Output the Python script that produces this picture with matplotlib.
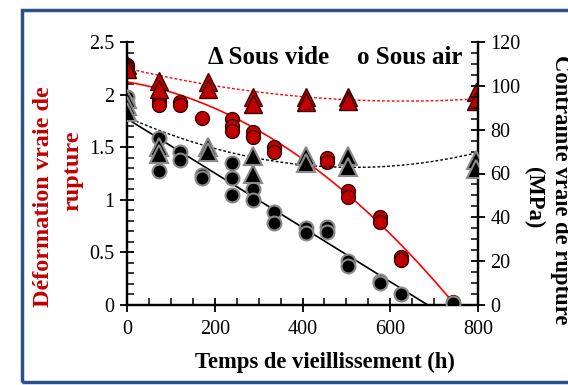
import numpy as np
import matplotlib
matplotlib.use("Agg")
import matplotlib.pyplot as plt
from matplotlib.patches import Rectangle
from matplotlib.ticker import MultipleLocator

plt.rcParams["font.family"] = ["Liberation Serif", "DejaVu Serif"]

# red: true strain at rupture (left axis), black: true stress at rupture in MPa (right axis)
air_strain_h = [0, 0, 72, 72, 72, 120, 120, 170, 240, 240, 240, 288, 288, 336, 336,
                456, 456, 504, 504, 576, 576, 624, 624, 744]
air_strain = [2.28, 2.26, 1.98, 1.93, 1.90, 1.93, 1.90, 1.78, 1.77, 1.70, 1.65, 1.64, 1.60,
              1.50, 1.45, 1.40, 1.36, 1.08, 1.03, 0.84, 0.79, 0.46, 0.43, 0.03]
vac_strain_h = [0, 0, 72, 72, 185, 185, 288, 288, 408, 408, 504, 504, 795, 795]
vac_strain = [2.28, 2.24, 2.13, 2.05, 2.12, 2.05, 1.98, 1.91, 1.98, 1.93, 1.98, 1.94, 2.02, 1.94]

air_stress_h = [0, 0, 72, 72, 120, 120, 170, 170, 240, 240, 240, 288, 288, 336, 336,
                408, 408, 456, 456, 504, 504, 576, 576, 624, 744]
air_stress = [95, 92, 76, 61, 70, 66, 59.5, 58, 65, 58, 50, 52.7, 48, 42.6, 37.6,
              35, 33, 35.5, 33.5, 20, 18, 11, 10, 5, 1]
vac_stress_h = [0, 0, 0, 72, 72, 185, 185, 288, 288, 408, 408, 504, 504, 795, 795]
vac_stress = [94, 91, 88, 72, 69, 72, 70, 68, 60, 68, 65, 68, 63, 66, 62]

# trend curves (polynomial coefficients, highest order first)
fit_air_strain = [-2.887e-6, -6.75e-4, 2.12]
fit_vac_strain = [7.81e-7, -9.87e-4, 2.25]
fit_air_stress = [-0.124, 85.0]
fit_vac_stress = [8.545e-5, -0.0885, 85.7]

RED = "#C00000"

fig = plt.figure(figsize=(5.68, 3.85), dpi=100)
ax = fig.add_axes([127 / 568, 1 - 305 / 385, 351 / 568, 263 / 385])
ax2 = ax.twinx()

h = np.linspace(0, 800, 200)
ax.plot(h, np.polyval(fit_vac_strain, h), ls=(0, (2, 1.5)), color="red", lw=1, zorder=2)
ha = np.linspace(0, 742, 200)
ax.plot(ha, np.polyval(fit_air_strain, ha), color="red", lw=1.2, zorder=2)
ax.plot(air_strain_h, air_strain, "o", ms=10, mfc=RED, mec="#3a0000", mew=1, zorder=3)
ax.plot(vac_strain_h, vac_strain, "^", ms=12.5, mfc=RED, mec="#3a0000", mew=1, zorder=4)

ax2.plot(h, np.polyval(fit_vac_stress, h), ls=(0, (2, 1.5)), color="black", lw=1, zorder=2)
hs = np.linspace(0, 700, 100)
ax2.plot(hs, np.polyval(fit_air_stress, hs), color="black", lw=1.2, zorder=2)
ax2.plot(air_stress_h, air_stress, "o", ms=10, mfc="black", mec="#8a8a8a", mew=1.5, zorder=3)
ax2.plot(vac_stress_h, vac_stress, "^", ms=12.5, mfc="black", mec="#8a8a8a", mew=1.5, zorder=4)

ax.set_xlim(0, 800)
ax.set_ylim(0, 2.5)
ax2.set_ylim(0, 120)
ax.xaxis.set_major_locator(MultipleLocator(200))
ax.xaxis.set_minor_locator(MultipleLocator(50))
ax.yaxis.set_major_locator(MultipleLocator(0.5))
ax.yaxis.set_minor_locator(MultipleLocator(0.1))
ax2.yaxis.set_major_locator(MultipleLocator(20))
ax2.yaxis.set_minor_locator(MultipleLocator(5))
ax.set_yticks([0, 0.5, 1, 1.5, 2, 2.5], ["0", "0.5", "1", "1.5", "2", "2.5"])

for a in (ax, ax2):
    a.spines["top"].set_visible(False)
    for s in a.spines.values():
        s.set_linewidth(1.6)
    a.tick_params(which="major", direction="inout", length=10, width=1.3, labelsize=14.5, pad=4)
    a.tick_params(which="minor", direction="in", length=5, width=1.1)
ax.tick_params(axis="x", pad=6)

fig.text(208 / 568, 1 - 58 / 385, "Δ Sous vide", va="center", ha="left", fontweight="bold", fontsize=18)
fig.text(357 / 568, 1 - 58 / 385, "o Sous air", va="center", ha="left", fontweight="bold", fontsize=18)

fig.text(44 / 568, 1 - 197 / 385, "Déformation vraie de", rotation=90, color=RED,
         ha="center", va="center", fontweight="bold", fontsize=17.5)
fig.text(73 / 568, 1 - 171 / 385, "rupture", rotation=90, color=RED,
         ha="center", va="center", fontweight="bold", fontsize=17.5)
fig.text(561 / 568, 1 - 190 / 385, "Contrainte vraie de rupture", rotation=270,
         ha="center", va="center", fontweight="bold", fontsize=16.3)
fig.text(534 / 568, 1 - 198 / 385, "(MPa)", rotation=270, ha="center", va="center",
         fontweight="bold", fontsize=16.3)
fig.text(325 / 568, 1 - 362 / 385, "Temps de vieillissement (h)", ha="center", va="center",
         fontweight="bold", fontsize=16.3)

fig.patches.append(Rectangle((22 / 568, 1 - 382 / 385), 1.2, 372 / 385, transform=fig.transFigure,
                             fill=False, edgecolor="#2B5287", lw=2.5))

fig.savefig("out.png", dpi=100)
